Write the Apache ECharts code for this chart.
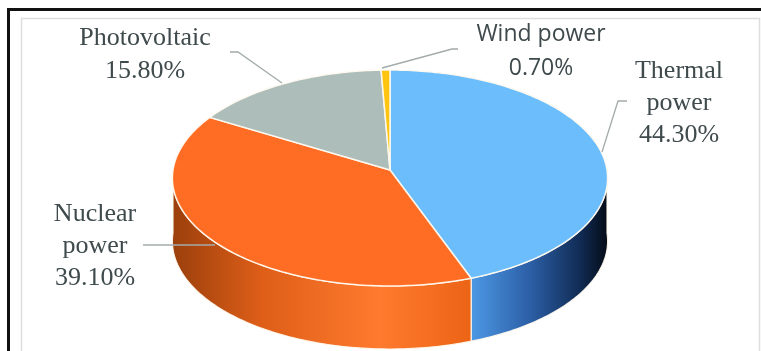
<!DOCTYPE html>
<html>
<head>
<meta charset="utf-8">
<script src="https://cdn.jsdelivr.net/npm/echarts@6/dist/echarts.min.js"></script>
<style>html,body{margin:0;padding:0;background:#fff}#c{width:761px;height:351px}</style>
</head>
<body>
<div id="c"></div>
<script>
// ---- data ----
const categories = ['Thermal power', 'Nuclear power', 'Photovoltaic', 'Wind power'];
const values = [44.3, 39.1, 15.8, 0.7];
const labelLines = [['Thermal', 'power'], ['Nuclear', 'power'], ['Photovoltaic'], ['Wind power']];

// ---- style / layout ----
const topColors = ['#6bbdfb', '#ff6d24', '#adbdb9', '#ffc410'];
const CX = 390, CY = 170, RX = 217, RY = 107.4, P = 0.074, DEPTH = 63;
const labelAnchor = [[679, 103], [95, 246], [145, 55], [541, 51]];
const labelFonts = [
  '26px "Liberation Serif", "DejaVu Serif", serif',
  '26px "Liberation Serif", "DejaVu Serif", serif',
  '26px "Liberation Serif", "DejaVu Serif", serif',
  '23px "Open Sans", "Liberation Sans", sans-serif'
];
const labelLH = [32, 32, 33, 34];
const leaders = [
  [[627, 101], [618, 101], [602, 152]],
  [[143, 245], [215, 245]],
  [[230, 52], [238, 52], [282, 83]],
  [[458, 49], [452, 49], [382, 68]]
];

const total = values.reduce((a, b) => a + b, 0);
function startAngle(i) {
  let s = 0;
  for (let k = 0; k < i; k++) s += values[k];
  return s / total * 360;
}
function proj(deg, dy) {
  const t = deg * Math.PI / 180;
  const u = Math.sin(t), v = Math.cos(t);
  const w = 1 + P * v;
  return [CX + RX * u / w, CY - RY * v / w + (dy || 0)];
}
function arc(a, b, dy) {
  const pts = [];
  const n = Math.max(2, Math.ceil((b - a) / 1));
  for (let k = 0; k <= n; k++) pts.push(proj(a + (b - a) * k / n, dy));
  return pts;
}
const sideGrad = [
  new echarts.graphic.LinearGradient(466, 0, 608, 0, [
    { offset: 0, color: '#4f9de9' }, { offset: 0.45, color: '#2c5fa6' },
    { offset: 0.8, color: '#112c55' }, { offset: 1, color: '#050b16' }], true),
  new echarts.graphic.LinearGradient(172, 0, 470, 0, [
    { offset: 0, color: '#9a3f0c' }, { offset: 0.3, color: '#de5e18' },
    { offset: 0.7, color: '#ff7a2e' }, { offset: 1, color: '#ec6416' }], true),
  '#8f9f9c', '#d9a400'
];

const data = values.map((v, i) => [i, v]);

function renderSide(params, api) {
  const i = api.value(0);
  const a = startAngle(i), b = a + api.value(1) / total * 360;
  const s = Math.max(a, 90), e = Math.min(b, 270);
  if (e <= s) return null;
  const top = arc(s, e, 0);
  const bot = arc(s, e, DEPTH).reverse();
  return {
    type: 'polygon',
    shape: { points: top.concat(bot) },
    style: { fill: sideGrad[i], stroke: 'rgba(255,250,240,0.9)', lineWidth: 1.2 }
  };
}
function renderTop(params, api) {
  const i = api.value(0);
  const a = startAngle(i), b = a + api.value(1) / total * 360;
  const pts = [[CX, CY]].concat(arc(a, b, 0));
  return {
    type: 'polygon',
    shape: { points: pts },
    style: { fill: topColors[i], stroke: 'rgba(255,250,240,0.95)', lineWidth: 1.5 }
  };
}

const graphics = [
  { type: 'line', shape: { x1: 8.5, y1: 8, x2: 8.5, y2: 351 }, style: { stroke: '#111', lineWidth: 3 } },
  { type: 'line', shape: { x1: 7, y1: 9.5, x2: 761, y2: 9.5 }, style: { stroke: '#111', lineWidth: 3 } },
  { type: 'polyline', shape: { points: [[21.5, 351], [21.5, 18.5], [759.5, 18.5], [759.5, 351]] }, style: { stroke: '#dedede', fill: null, lineWidth: 1.5 } }
];
categories.forEach((name, i) => {
  graphics.push({
    type: 'polyline', z: 10,
    shape: { points: leaders[i] },
    style: { stroke: '#a3abab', fill: null, lineWidth: 1.3 }
  });
  graphics.push({
    type: 'text', z: 10,
    style: {
      text: labelLines[i].concat(values[i].toFixed(2) + '%').join('\n'),
      x: labelAnchor[i][0], y: labelAnchor[i][1],
      align: 'center', verticalAlign: 'middle',
      font: labelFonts[i], lineHeight: labelLH[i],
      fill: '#3f4a4d'
    }
  });
});

const chart = echarts.init(document.getElementById('c'), null, { renderer: 'canvas' });
chart.setOption({
  backgroundColor: '#ffffff',
  animation: false,
  graphic: graphics,
  series: [
    { type: 'custom', name: 'side', coordinateSystem: 'none', renderItem: renderSide, data: data, z: 2, silent: true },
    { type: 'custom', name: 'top', coordinateSystem: 'none', renderItem: renderTop, data: data, z: 3, silent: true }
  ]
});
</script>
</body>
</html>
